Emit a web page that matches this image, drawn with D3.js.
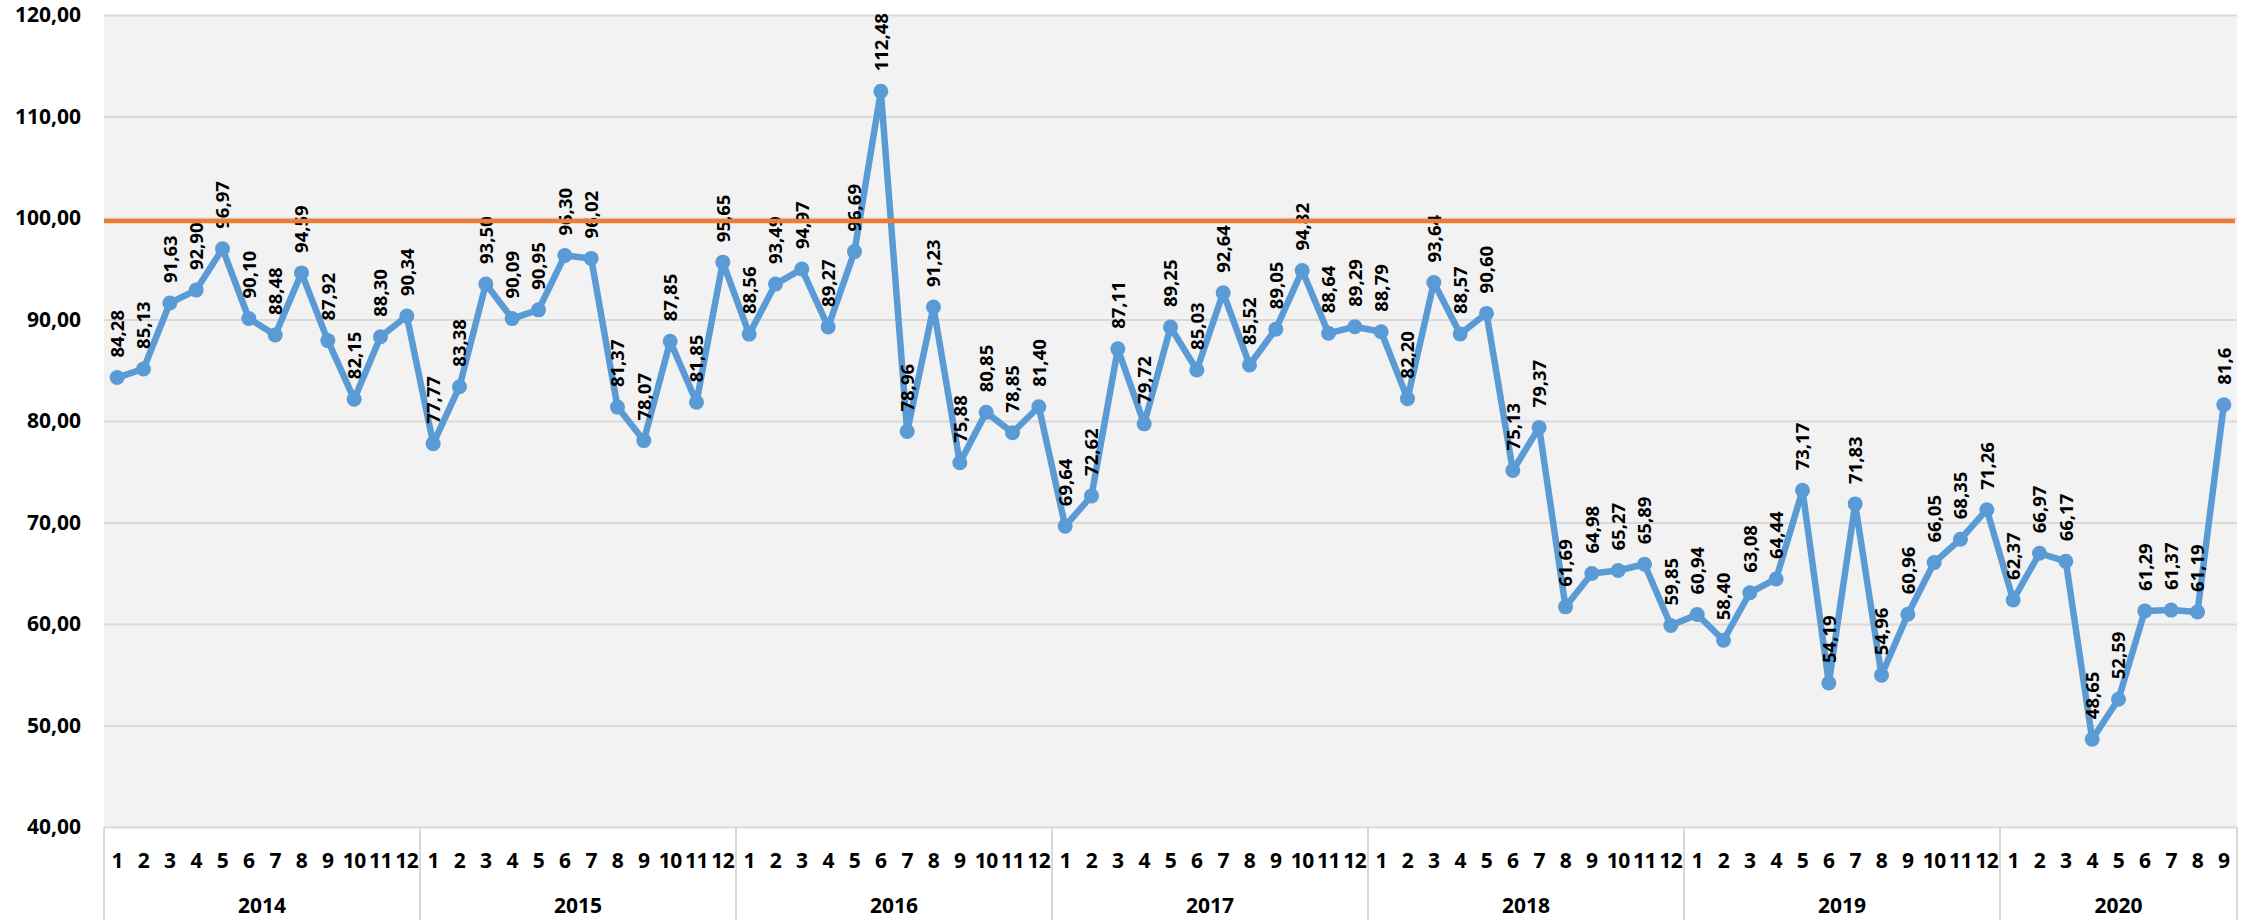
<!DOCTYPE html>
<html>
<head>
<meta charset="utf-8">
<script src="https://cdn.jsdelivr.net/npm/d3@7/dist/d3.min.js"></script>
<style>
  html, body { margin: 0; padding: 0; background: #ffffff; }
  svg { display: block; }
</style>
</head>
<body>
<svg id="chart" width="2252" height="920"></svg>
<script>
// ---- data ----
const years = ["2014", "2015", "2016", "2017", "2018", "2019", "2020"];
const v2014 = [84.28, 85.13, 91.63, 92.90, 96.97, 90.10, 88.48, 94.59, 87.92, 82.15, 88.30, 90.34];
const v2015 = [77.77, 83.38, 93.50, 90.09, 90.95, 96.30, 96.02, 81.37, 78.07, 87.85, 81.85, 95.65];
const v2016 = [88.56, 93.49, 94.97, 89.27, 96.69, 112.48, 78.96, 91.23, 75.88, 80.85, 78.85, 81.40];
const v2017 = [69.64, 72.62, 87.11, 79.72, 89.25, 85.03, 92.64, 85.52, 89.05, 94.82, 88.64, 89.29];
const v2018 = [88.79, 82.20, 93.64, 88.57, 90.60, 75.13, 79.37, 61.69, 64.98, 65.27, 65.89, 59.85];
const v2019 = [60.94, 58.40, 63.08, 64.44, 73.17, 54.19, 71.83, 54.96, 60.96, 66.05, 68.35, 71.26];
const v2020 = [62.37, 66.97, 66.17, 48.65, 52.59, 61.29, 61.37, 61.19, 81.6];
const yearValues = [v2014, v2015, v2016, v2017, v2018, v2019, v2020];
const yTicks = [40, 50, 60, 70, 80, 90, 100, 110, 120];
const targetValue = 99.7;
const labelOverrides = { "2020-9": "81,6" };

// ---- build table ----
const data = [];
years.forEach((yr, yi) => {
  yearValues[yi].forEach((v, mi) => {
    data.push({ year: yr, month: mi + 1, value: v, key: yr + "-" + (mi + 1) });
  });
});

const svg = d3.select("#chart");
const plot = { left: 104, right: 2237, top: 15, bottom: 827 };

const x = d3.scaleBand().domain(data.map(d => d.key)).range([plot.left, plot.right]).padding(0);
const y = d3.scaleLinear().domain([40, 120]).range([plot.bottom, plot.top]);
const cx = d => x(d.key) + x.bandwidth() / 2;
const fmt = v => d3.format(".2f")(v).replace(".", ",");

// background
svg.append("rect")
  .attr("x", plot.left).attr("y", plot.top)
  .attr("width", plot.right - plot.left).attr("height", plot.bottom - plot.top)
  .attr("fill", "#f2f2f2");

// gridlines
const grid = svg.append("g")
  .attr("transform", `translate(${plot.left},0)`)
  .call(d3.axisLeft(y).tickValues(yTicks).tickSize(-(plot.right - plot.left)).tickFormat(""));
grid.select(".domain").remove();
grid.selectAll(".tick line").attr("stroke", "#d9d9d9").attr("stroke-width", 2);

// y axis labels
const yAxis = svg.append("g")
  .attr("transform", `translate(${plot.left},0)`)
  .call(d3.axisLeft(y).tickValues(yTicks).tickSize(0).tickPadding(23).tickFormat(fmt));
yAxis.select(".domain").remove();
yAxis.selectAll("text")
  .attr("font-family", "'Open Sans', sans-serif")
  .attr("font-weight", "700")
  .attr("font-size", "21px")
  .attr("fill", "#000");

// x axis: months
const xAxis = svg.append("g")
  .attr("transform", `translate(0,${plot.bottom})`)
  .call(d3.axisBottom(x).tickSize(0).tickFormat(k => k.split("-")[1]));
xAxis.select(".domain").remove();
xAxis.selectAll("text")
  .attr("y", 33).attr("dy", "0.36em")
  .attr("font-family", "'Open Sans', sans-serif")
  .attr("font-weight", "700")
  .attr("font-size", "21px")
  .attr("letter-spacing", "-0.5px")
  .attr("fill", "#000");

// year separators and labels
const yearInfo = years.map((yr, yi) => {
  const keys = yearValues[yi].map((v, mi) => yr + "-" + (mi + 1));
  const x0 = x(keys[0]);
  const x1 = x(keys[keys.length - 1]) + x.bandwidth();
  return { yr, x0, x1 };
});
const sepXs = yearInfo.map(d => d.x0).concat([yearInfo[yearInfo.length - 1].x1]);
svg.append("g").selectAll("line").data(sepXs).join("line")
  .attr("x1", d => d).attr("x2", d => d)
  .attr("y1", plot.bottom).attr("y2", 920)
  .attr("stroke", "#d9d9d9").attr("stroke-width", 2);
svg.append("g").selectAll("text").data(yearInfo).join("text")
  .attr("x", d => (d.x0 + d.x1) / 2)
  .attr("y", 905).attr("dy", "0.36em")
  .attr("text-anchor", "middle")
  .attr("font-family", "'Open Sans', sans-serif")
  .attr("font-weight", "700")
  .attr("font-size", "21px")
  .attr("fill", "#000")
  .text(d => d.yr);

// main series line
const line = d3.line().x(cx).y(d => y(d.value));
svg.append("path").datum(data)
  .attr("d", line)
  .attr("fill", "none")
  .attr("stroke", "#5b9bd5")
  .attr("stroke-width", 6.5)
  .attr("stroke-linejoin", "round");

svg.append("g").selectAll("circle").data(data).join("circle")
  .attr("cx", cx).attr("cy", d => y(d.value)).attr("r", 7.5)
  .attr("fill", "#5b9bd5");

// data labels
svg.append("g").selectAll("text").data(data).join("text")
  .attr("transform", d => `translate(${cx(d)},${y(d.value) - 20}) rotate(-90)`)
  .attr("text-anchor", "start")
  .attr("dy", "0.36em")
  .attr("font-family", "'Open Sans', sans-serif")
  .attr("font-weight", "700")
  .attr("font-size", "18.5px")
  .attr("fill", "#000")
  .text(d => labelOverrides[d.key] || fmt(d.value));

// reference line
svg.append("line")
  .attr("x1", plot.left).attr("x2", plot.right - 2)
  .attr("y1", y(targetValue)).attr("y2", y(targetValue))
  .attr("stroke", "#ed7d31").attr("stroke-width", 4.5);
</script>
</body>
</html>
